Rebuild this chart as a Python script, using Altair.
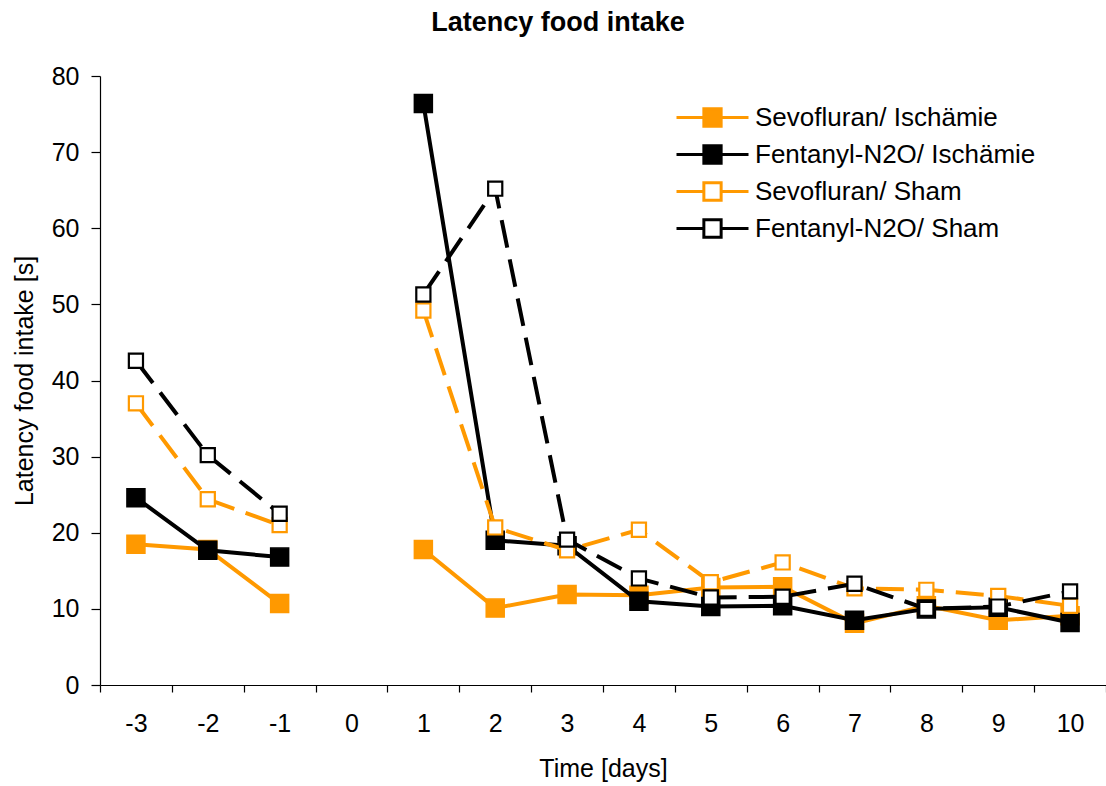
import altair as alt
import pandas as pd

# Days with measurements (day 0 = operation day, no measurement)
days = [-3, -2, -1, 1, 2, 3, 4, 5, 6, 7, 8, 9, 10]
axis_days = [-3, -2, -1, 0, 1, 2, 3, 4, 5, 6, 7, 8, 9, 10]

# Mean latency until food intake [s]
sevo_isch = [18.5, 17.8, 10.7, 17.8, 10.1, 11.9, 11.8, 12.8, 12.9, 8.1, 10.4, 8.5, 9.1]
fent_isch = [24.6, 17.7, 16.8, 76.4, 19.0, 18.3, 11.0, 10.3, 10.4, 8.5, 10.0, 10.2, 8.2]
sevo_sham = [37.0, 24.4, 21.0, 49.2, 20.7, 17.7, 20.4, 13.5, 16.1, 12.7, 12.5, 11.7, 10.4]
fent_sham = [42.6, 30.2, 22.5, 51.3, 65.2, 19.1, 14.0, 11.5, 11.6, 13.3, 10.0, 10.3, 12.3]

series_names = [
    "Sevofluran/ Ischämie",
    "Fentanyl-N2O/ Ischämie",
    "Sevofluran/ Sham",
    "Fentanyl-N2O/ Sham",
]
series_values = [sevo_isch, fent_isch, sevo_sham, fent_sham]
line_colors = ["#FF9900", "#000000", "#FF9900", "#000000"]
fill_colors = ["#FF9900", "#000000", "#FFFFFF", "#FFFFFF"]

rows = []
for name, vals in zip(series_names, series_values):
    for d, v in zip(days, vals):
        rows.append({
            "series": name,
            "day": str(d),
            "value": v,
            "phase": "pre" if d < 0 else "post",
        })
df = pd.DataFrame(rows)

FONT = "Liberation Sans"

x_enc = alt.X(
    "day:O",
    scale=alt.Scale(type="band", domain=[str(d) for d in axis_days],
                    paddingInner=0, paddingOuter=0),
    bandPosition=0.5,
    title="Time [days]",
    axis=alt.Axis(labelAngle=0, tickBand="extent", tickSize=7,
                  labelPadding=19, titlePadding=20, grid=False),
)
y_enc = alt.Y(
    "value:Q",
    scale=alt.Scale(domain=[0, 80], nice=False),
    title="Latency food intake [s]",
    axis=alt.Axis(values=list(range(0, 81, 10)), tickSize=9,
                  labelPadding=12, titlePadding=14, grid=False),
)

# Legend symbol: short line, square marker, short line
legend_path = "M-1,0H-0.24M0.24,0H1M-0.24,-0.24H0.24V0.24H-0.24Z"
legend = alt.Legend(
    orient="none", legendX=575, legendY=23, title=None,
    symbolType=legend_path, symbolSize=5184, symbolStrokeWidth=3,
    clipHeight=37, rowPadding=0, padding=0, labelOffset=5, labelLimit=400,
    labelFont=FONT, labelFontSize=26, labelColor="#000000",
)
stroke_enc = alt.Stroke("series:N",
                        scale=alt.Scale(domain=series_names, range=line_colors),
                        legend=legend)
fill_enc = alt.Fill("series:N",
                    scale=alt.Scale(domain=series_names, range=fill_colors),
                    legend=legend)

layers = []
for i, name in enumerate(series_names):
    base = alt.Chart(df).transform_filter(alt.datum.series == name)
    if i < 2:
        line = base.mark_line(strokeWidth=4)
        pts = base.mark_point(shape="square", size=324, strokeWidth=1.5, opacity=1)
    else:
        line = base.mark_line(strokeWidth=4, strokeDash=[28, 12])
        pts = base.mark_point(shape="square", size=200, strokeWidth=2.2, opacity=1)
    layers.append(line.encode(x=x_enc, y=y_enc, stroke=stroke_enc, detail="phase:N"))
    layers.append(pts.encode(x=x_enc, y=y_enc, stroke=stroke_enc, fill=fill_enc))

chart = (
    alt.layer(*layers)
    .properties(
        width=1006,
        height=609,
        title=alt.TitleParams(
            "Latency food intake", font=FONT, fontSize=27, fontWeight="bold",
            color="#000000", anchor="middle", dx=-45, offset=27,
        ),
        autosize=alt.AutoSizeParams(type="none"),
        padding={"left": 100, "top": 76, "right": 0, "bottom": 101},
        background="#FFFFFF",
    )
    .configure_view(stroke=None)
    .configure_axis(
        labelFont=FONT, titleFont=FONT, labelFontSize=25, titleFontSize=25,
        titleFontWeight="normal", labelColor="#000000", titleColor="#000000",
        domainColor="#000000", tickColor="#000000", domainWidth=1.2, tickWidth=1.2,
    )
)

chart.save("out.html", embed_options={"renderer": "svg", "actions": False})
